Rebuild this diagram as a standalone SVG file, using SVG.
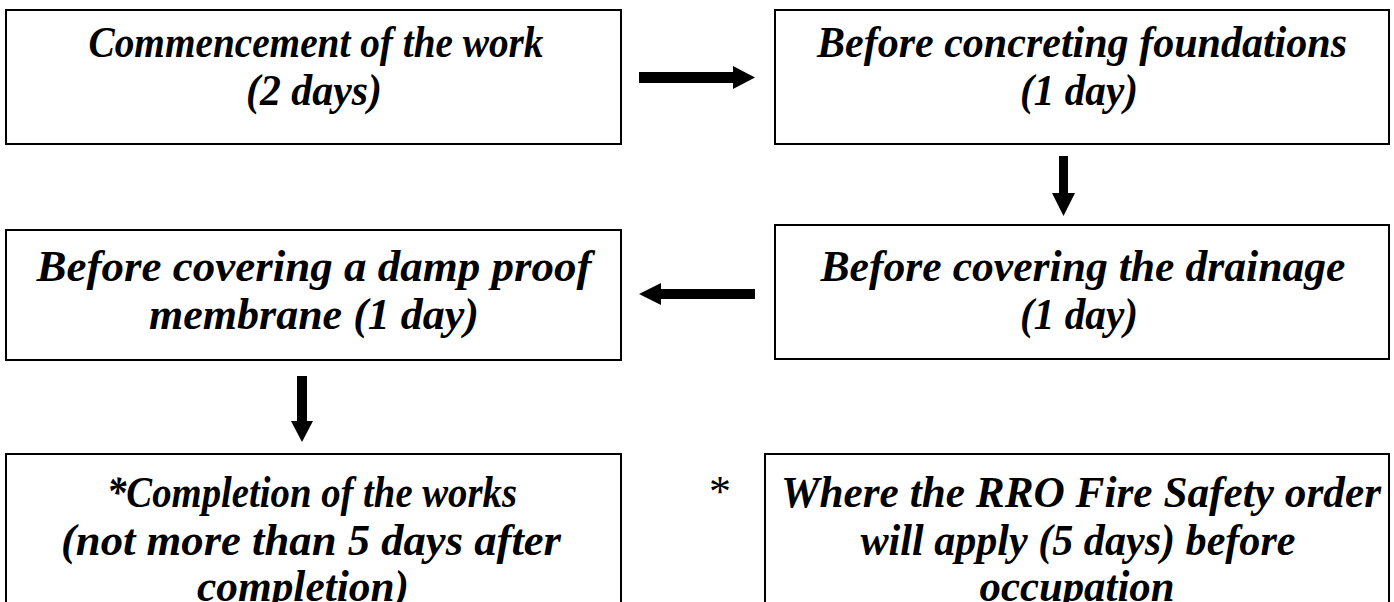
<svg xmlns="http://www.w3.org/2000/svg" width="1394" height="602" viewBox="0 0 1394 602">
<style>
.box{fill:#fff;stroke:#000;stroke-width:2}
.t{font-family:"Liberation Serif","Times New Roman",serif;font-weight:bold;font-style:italic;font-size:44px;fill:#000;text-anchor:middle}
.ast{font-family:"Liberation Serif","Times New Roman",serif;font-size:44px;fill:#000;text-anchor:middle}
.arr{fill:#000}
</style>
<rect width="1394" height="602" fill="#fff"/>
<g id="n1">
<rect class="box" x="6" y="10" width="615" height="134"/>
<text class="t" x="316" y="57" textLength="455" lengthAdjust="spacingAndGlyphs">Commencement of the work</text>
<text class="t" x="314" y="105" textLength="136" lengthAdjust="spacingAndGlyphs">(2 days)</text>
</g>
<g id="n2">
<rect class="box" x="775" y="10" width="614" height="134"/>
<text class="t" x="1082" y="57" textLength="530" lengthAdjust="spacingAndGlyphs">Before concreting foundations</text>
<text class="t" x="1079" y="105" textLength="118" lengthAdjust="spacingAndGlyphs">(1 day)</text>
</g>
<g id="n3">
<rect class="box" x="775" y="225" width="614" height="134"/>
<text class="t" x="1083" y="281" textLength="525" lengthAdjust="spacingAndGlyphs">Before covering the drainage</text>
<text class="t" x="1079" y="329" textLength="118" lengthAdjust="spacingAndGlyphs">(1 day)</text>
</g>
<g id="n4">
<rect class="box" x="6" y="230" width="615" height="130"/>
<text class="t" x="314" y="281" textLength="555" lengthAdjust="spacingAndGlyphs">Before covering a damp proof</text>
<text class="t" x="314" y="329" textLength="330" lengthAdjust="spacingAndGlyphs">membrane (1 day)</text>
</g>
<g id="n5">
<rect class="box" x="6" y="454" width="615" height="160"/>
<text class="t" x="312" y="507" textLength="410" lengthAdjust="spacingAndGlyphs">*Completion of the works</text>
<text class="t" x="311" y="555" textLength="500" lengthAdjust="spacingAndGlyphs">(not more than 5 days after</text>
<text class="t" x="303" y="601" textLength="212" lengthAdjust="spacingAndGlyphs">completion)</text>
</g>
<g id="n6">
<rect class="box" x="765" y="454" width="624" height="160"/>
<text class="t" x="1081" y="507" textLength="600" lengthAdjust="spacingAndGlyphs">Where the RRO Fire Safety order</text>
<text class="t" x="1078" y="555" textLength="435" lengthAdjust="spacingAndGlyphs">will apply (5 days) before</text>
<text class="t" x="1077" y="601" textLength="195" lengthAdjust="spacingAndGlyphs">occupation</text>
</g>
<text class="ast" x="720" y="506">*</text>
<g id="connectors">
<polygon class="arr" points="639,72 733,72 733,66 755,77.5 733,89 733,83 639,83"/>
<polygon class="arr" points="1059,156 1068,156 1068,193 1075,193 1063.5,216 1052,193 1059,193"/>
<polygon class="arr" points="755,289 661,289 661,283 639,294 661,305 661,299 755,299"/>
<polygon class="arr" points="297,376 307,376 307,421 313,421 302,442 291,421 297,421"/>
</g>
</svg>
